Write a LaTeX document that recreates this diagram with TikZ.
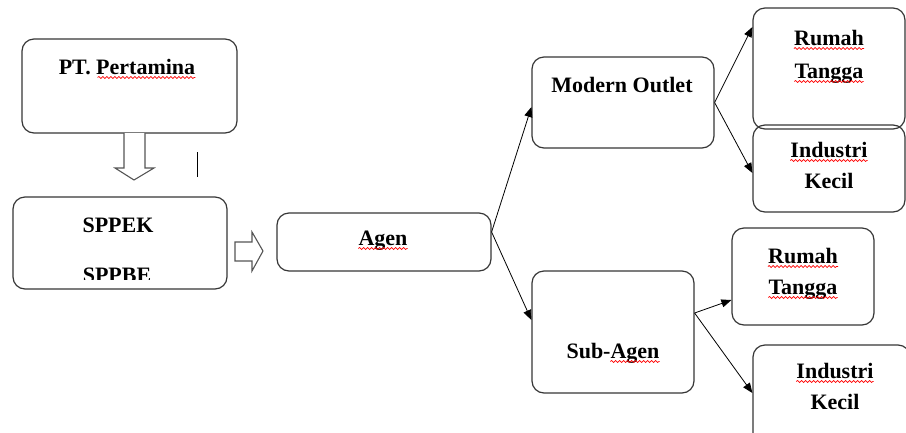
\documentclass[tikz,border=0pt]{standalone}
\usepackage{fontspec}
\setmainfont{Liberation Serif}
\usetikzlibrary{arrows.meta,decorations.pathmorphing}
\definecolor{boxline}{RGB}{55,55,55}
\definecolor{hollow}{RGB}{85,85,85}
\begin{document}
\begin{tikzpicture}[x=1pt,y=-1pt,
  box/.style={draw=boxline,line width=1.2pt,rounded corners=12pt,minimum width=#1,inner sep=0pt},
  txt/.style={anchor=base,inner sep=0pt,font=\fontsize{22}{33}\selectfont\bfseries},
  conn/.style={draw=black,line width=0.8pt,-{Triangle[length=10pt,width=8pt]}},
  blockarrow/.style={draw=hollow,line width=1.1pt,fill=white},
  squig/.style={draw=red,line width=0.7pt,decorate,decoration={snake,segment length=4pt,amplitude=1pt}}]
\clip (0,0) rectangle (906,432);
\fill[white] (0,0) rectangle (906,432);
% boxes
\node[box=215pt,minimum height=94pt] (pt) at (129.5,86) {};
\node[box=214pt,minimum height=92pt] (sppek) at (120,243) {};
\node[box=214pt,minimum height=58pt] (agen) at (384,242) {};
\node[box=182pt,minimum height=91pt] (mo) at (623,102.5) {};
\node[box=152pt,minimum height=121pt] (rt1) at (829,68.5) {};
\node[box=152pt,minimum height=87pt] (ik1) at (829,168.5) {};
\node[box=162pt,minimum height=122pt] (sa) at (613,332) {};
\node[box=142pt,minimum height=97pt] (rt2) at (803,276.5) {};
\node[box=157pt,minimum height=100pt] (ik2) at (831.5,395) {};
% texts
\node[txt] (tpt) at (127,74) {PT. Pertamina};
\node[txt] (tsppek) at (118,232) {SPPEK};
\begin{scope}
\clip (13,197) rectangle (227,279);
\node[txt] (tsppbe) at (117,282) {SPPBE};
\end{scope}
\node[txt] (tagen) at (383,245) {Agen};
\node[txt] (tmo) at (622,92) {Modern Outlet};
\node[txt] (trt1a) at (829,45) {Rumah};
\node[txt] (trt1b) at (829,78) {Tangga};
\node[txt] (tik1a) at (829,157) {Industri};
\node[txt] (tik1b) at (829,188) {Kecil};
\node[txt] (tsa) at (613,358) {Sub-Agen};
\node[txt] (trt2a) at (803,263) {Rumah};
\node[txt] (trt2b) at (803,294) {Tangga};
\node[txt] (tik2a) at (835,378) {Industri};
\node[txt] (tik2b) at (835,409) {Kecil};
% spelling squiggles
\foreach \n in {tagen,trt1a,trt1b,tik1a,trt2a,trt2b,tik2a}
  \draw[squig] ([yshift=-3.5pt]\n.base west) -- ([yshift=-3.5pt]\n.base east);
\draw[squig] ([xshift=39pt,yshift=-3.5pt]tpt.base west) -- ([yshift=-3.5pt]tpt.base east);
\draw[squig] ([xshift=44pt,yshift=-3.5pt]tsa.base west) -- ([yshift=-3.5pt]tsa.base east);
% block arrows
\draw[blockarrow] (124,133) -- (124,168) -- (115,168) -- (134,180) -- (154,168) -- (145,168) -- (145,133);
\draw[blockarrow] (235,242) -- (252,242) -- (252,232) -- (263,251) -- (252,271) -- (252,261) -- (235,261) -- cycle;
\draw[black,line width=0.8pt] (197,152) -- (197,177);
% connectors
\draw[conn] ([yshift=10pt]agen.east) -- ([yshift=-4.5pt]mo.west);
\draw[conn] ([yshift=10pt]agen.east) -- ([yshift=12pt]sa.west);
\draw[conn] (mo.east) -- ([yshift=41.5pt]rt1.west);
\draw[conn] (mo.east) -- ([yshift=-4.5pt]ik1.west);
\draw[conn] ([yshift=19pt]sa.east) -- ([yshift=-23.5pt]rt2.west);
\draw[conn] ([yshift=19pt]sa.east) -- ([yshift=2pt]ik2.west);
\end{tikzpicture}
\end{document}
